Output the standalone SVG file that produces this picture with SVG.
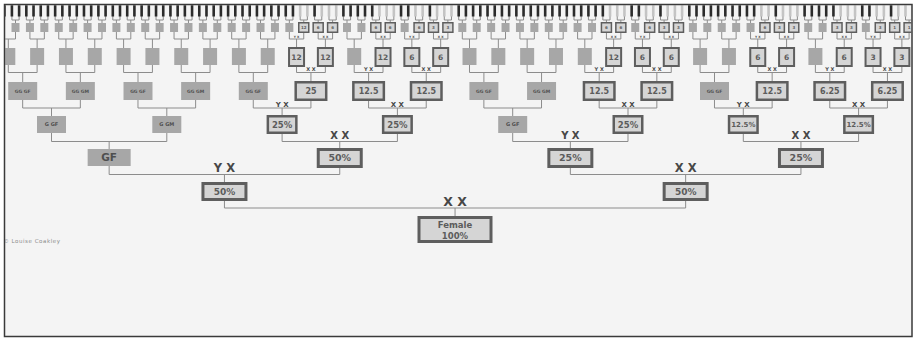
<svg xmlns="http://www.w3.org/2000/svg" xmlns:xlink="http://www.w3.org/1999/xlink" width="918" height="341" viewBox="0 0 918 341">
<style>
.bg{fill:#f4f4f4}
.frame{fill:none;stroke:#3a3a3a;stroke-width:1.5}
.cn{fill:none;stroke:#8c8c8c;stroke-width:1}
.gy{fill:#a7a7a7}
.cb{fill:#d5d5d5;stroke:#5e5e5e}
.s3{stroke-width:3}.s25{stroke-width:2.5}.s2{stroke-width:2}.s15{stroke-width:1.5}
.bd{fill:#2b2b2b}.bl{fill:#c4c4c4}
text{font-family:"DejaVu Sans","Liberation Sans",sans-serif;font-weight:bold;text-anchor:middle}
.tv{fill:#5c5c5c}.tg{fill:#4f4f4f}.lb{fill:#474747}
.f0{font-size:8.5px}.f1{font-size:9px}.f2{font-size:9.5px}.f3{font-size:8.5px}.f3s{font-size:7px}.fg3{font-size:5px}.f4{font-size:8px}.fg4{font-size:4.5px}.f5{font-size:7.5px}.f6{font-size:4px}
.l0{font-size:12.5px}.l1{font-size:11.5px}.l2{font-size:10px}.l3{font-size:7px}.l4{font-size:5px}.l5{font-size:3px}
.cp{font-size:5.5px;font-weight:normal;fill:#8a8a8a;text-anchor:start;letter-spacing:0.55px}
</style>
<defs>
<clipPath id="clip"><rect x="5.25" y="5.25" width="906" height="330.5"/></clipPath>
<rect id="g6" x="-4" y="23" width="8" height="9" class="gy"/>
<rect id="c6" x="-5" y="22.75" width="10" height="9.5" class="cb s15"/>
<rect id="g5" x="-7" y="48" width="14" height="17" class="gy"/>
<rect id="c5" x="-7.5" y="48" width="15" height="18" class="cb s2"/>
<rect id="g4" x="-14.5" y="82" width="29" height="18" class="gy"/>
<rect id="c4" x="-15.25" y="82.25" width="30.5" height="17.5" class="cb s25"/>
<rect id="g3" x="-14.5" y="116" width="29" height="17" class="gy"/>
<rect id="c3" x="-14.25" y="116.25" width="28.5" height="16.5" class="cb s25"/>
<g id="b-nn"><rect class="bd" x="-4.9" y="4" width="2.6" height="12.5"/><rect class="bd" x="2.3" y="4" width="2.6" height="12.5"/></g>
<g id="b-nc"><rect class="bd" x="-4.9" y="4" width="2.6" height="12.5"/><rect class="bl" x="2.3" y="4" width="2.6" height="12.5"/></g>
<g id="b-cc"><rect class="bl" x="-4.9" y="4" width="2.6" height="12.5"/><rect class="bl" x="2.3" y="4" width="2.6" height="12.5"/></g>
<path id="k6" d="M-3.6 16V20H3.6V16M0 20V23"/>
<path id="k5" d="M-7.2 30V39H7.2V30M0 39V48"/>
<path id="k4" d="M-14.41 60V72.5H14.41V60M0 72.5V82"/>
<path id="k3" d="M-28.83 95V108H28.83V95M0 108V116"/>
<path id="k2" d="M-57.65 128V141.5H57.65V128M0 141.5V149"/>
<path id="k1" d="M-115.3 160V174.5H115.3V160M0 174.5V183"/>
<path id="k0" d="M-230.6 192V208H230.6V192M0 208V217"/>
</defs>
<rect x="0" y="0" width="918" height="341" fill="#ffffff"/>
<rect class="bg" x="4.5" y="4.5" width="907.5" height="332"/>
<g clip-path="url(#clip)">
<g id="connectors" class="cn">
<use href="#k6" x="1.1"/><use href="#k6" x="15.51"/><use href="#k6" x="29.93"/><use href="#k6" x="44.34"/><use href="#k6" x="58.75"/><use href="#k6" x="73.16"/><use href="#k6" x="87.58"/><use href="#k6" x="101.99"/><use href="#k6" x="116.4"/><use href="#k6" x="130.81"/><use href="#k6" x="145.23"/><use href="#k6" x="159.64"/><use href="#k6" x="174.05"/><use href="#k6" x="188.46"/><use href="#k6" x="202.88"/><use href="#k6" x="217.29"/><use href="#k6" x="231.7"/><use href="#k6" x="246.11"/><use href="#k6" x="260.53"/><use href="#k6" x="274.94"/><use href="#k6" x="289.35"/><use href="#k6" x="303.76"/><use href="#k6" x="318.18"/><use href="#k6" x="332.59"/><use href="#k6" x="347"/><use href="#k6" x="361.41"/><use href="#k6" x="375.83"/><use href="#k6" x="390.24"/><use href="#k6" x="404.65"/><use href="#k6" x="419.06"/><use href="#k6" x="433.48"/><use href="#k6" x="447.89"/><use href="#k6" x="462.3"/><use href="#k6" x="476.71"/><use href="#k6" x="491.13"/><use href="#k6" x="505.54"/><use href="#k6" x="519.95"/><use href="#k6" x="534.36"/><use href="#k6" x="548.78"/><use href="#k6" x="563.19"/><use href="#k6" x="577.6"/><use href="#k6" x="592.01"/><use href="#k6" x="606.43"/><use href="#k6" x="620.84"/><use href="#k6" x="635.25"/><use href="#k6" x="649.66"/><use href="#k6" x="664.08"/><use href="#k6" x="678.49"/><use href="#k6" x="692.9"/><use href="#k6" x="707.31"/><use href="#k6" x="721.73"/><use href="#k6" x="736.14"/><use href="#k6" x="750.55"/><use href="#k6" x="764.96"/><use href="#k6" x="779.38"/><use href="#k6" x="793.79"/><use href="#k6" x="808.2"/><use href="#k6" x="822.61"/><use href="#k6" x="837.03"/><use href="#k6" x="851.44"/><use href="#k6" x="865.85"/><use href="#k6" x="880.26"/><use href="#k6" x="894.68"/><use href="#k6" x="909.09"/>
<use href="#k5" x="8.3"/><use href="#k5" x="37.13"/><use href="#k5" x="65.95"/><use href="#k5" x="94.78"/><use href="#k5" x="123.6"/><use href="#k5" x="152.43"/><use href="#k5" x="181.25"/><use href="#k5" x="210.08"/><use href="#k5" x="238.9"/><use href="#k5" x="267.73"/><use href="#k5" x="296.55"/><use href="#k5" x="325.38"/><use href="#k5" x="354.2"/><use href="#k5" x="383.03"/><use href="#k5" x="411.85"/><use href="#k5" x="440.68"/><use href="#k5" x="469.5"/><use href="#k5" x="498.33"/><use href="#k5" x="527.15"/><use href="#k5" x="555.98"/><use href="#k5" x="584.8"/><use href="#k5" x="613.63"/><use href="#k5" x="642.45"/><use href="#k5" x="671.28"/><use href="#k5" x="700.1"/><use href="#k5" x="728.93"/><use href="#k5" x="757.75"/><use href="#k5" x="786.58"/><use href="#k5" x="815.4"/><use href="#k5" x="844.23"/><use href="#k5" x="873.05"/><use href="#k5" x="901.88"/>
<use href="#k4" x="22.7"/><use href="#k4" x="80.35"/><use href="#k4" x="138"/><use href="#k4" x="195.65"/><use href="#k4" x="253.3"/><use href="#k4" x="310.95"/><use href="#k4" x="368.6"/><use href="#k4" x="426.25"/><use href="#k4" x="483.9"/><use href="#k4" x="541.55"/><use href="#k4" x="599.2"/><use href="#k4" x="656.85"/><use href="#k4" x="714.5"/><use href="#k4" x="772.15"/><use href="#k4" x="829.8"/><use href="#k4" x="887.45"/>
<use href="#k3" x="51.5"/><use href="#k3" x="166.8"/><use href="#k3" x="282.1"/><use href="#k3" x="397.4"/><use href="#k3" x="512.7"/><use href="#k3" x="628"/><use href="#k3" x="743.3"/><use href="#k3" x="858.6"/>
<use href="#k2" x="109.15"/><use href="#k2" x="339.75"/><use href="#k2" x="570.35"/><use href="#k2" x="800.95"/>
<use href="#k1" x="224.45"/><use href="#k1" x="685.65"/>
<use href="#k0" x="455.05"/>
</g>
<g id="gen7">
<use href="#b-nn" x="1.1"/><use href="#b-nn" x="15.51"/><use href="#b-nn" x="29.93"/><use href="#b-nn" x="44.34"/><use href="#b-nn" x="58.75"/><use href="#b-nn" x="73.16"/><use href="#b-nn" x="87.58"/><use href="#b-nn" x="101.99"/><use href="#b-nn" x="116.4"/><use href="#b-nn" x="130.81"/><use href="#b-nn" x="145.23"/><use href="#b-nn" x="159.64"/><use href="#b-nn" x="174.05"/><use href="#b-nn" x="188.46"/><use href="#b-nn" x="202.88"/><use href="#b-nn" x="217.29"/><use href="#b-nn" x="231.7"/><use href="#b-nn" x="246.11"/><use href="#b-nn" x="260.53"/><use href="#b-nn" x="274.94"/><use href="#b-nn" x="289.35"/><use href="#b-cc" x="303.76"/><use href="#b-nc" x="318.18"/><use href="#b-cc" x="332.59"/><use href="#b-nn" x="347"/><use href="#b-nn" x="361.41"/><use href="#b-nc" x="375.83"/><use href="#b-cc" x="390.24"/><use href="#b-nn" x="404.65"/><use href="#b-cc" x="419.06"/><use href="#b-nc" x="433.48"/><use href="#b-cc" x="447.89"/><use href="#b-nn" x="462.3"/><use href="#b-nn" x="476.71"/><use href="#b-nn" x="491.13"/><use href="#b-nn" x="505.54"/><use href="#b-nn" x="519.95"/><use href="#b-nn" x="534.36"/><use href="#b-nn" x="548.78"/><use href="#b-nn" x="563.19"/><use href="#b-nn" x="577.6"/><use href="#b-nn" x="592.01"/><use href="#b-nc" x="606.43"/><use href="#b-cc" x="620.84"/><use href="#b-nn" x="635.25"/><use href="#b-cc" x="649.66"/><use href="#b-nc" x="664.08"/><use href="#b-cc" x="678.49"/><use href="#b-nn" x="692.9"/><use href="#b-nn" x="707.31"/><use href="#b-nn" x="721.73"/><use href="#b-nn" x="736.14"/><use href="#b-nn" x="750.55"/><use href="#b-cc" x="764.96"/><use href="#b-nc" x="779.38"/><use href="#b-cc" x="793.79"/><use href="#b-nn" x="808.2"/><use href="#b-nn" x="822.61"/><use href="#b-nc" x="837.03"/><use href="#b-cc" x="851.44"/><use href="#b-nn" x="865.85"/><use href="#b-cc" x="880.26"/><use href="#b-nc" x="894.68"/><use href="#b-cc" x="909.09"/>
</g>
<g id="gen6">
<use id="n6-0" href="#g6" x="1.1"/><use id="n6-1" href="#g6" x="15.51"/><use id="n6-2" href="#g6" x="29.93"/><use id="n6-3" href="#g6" x="44.34"/><use id="n6-4" href="#g6" x="58.75"/><use id="n6-5" href="#g6" x="73.16"/><use id="n6-6" href="#g6" x="87.58"/><use id="n6-7" href="#g6" x="101.99"/><use id="n6-8" href="#g6" x="116.4"/><use id="n6-9" href="#g6" x="130.81"/><use id="n6-10" href="#g6" x="145.23"/><use id="n6-11" href="#g6" x="159.64"/><use id="n6-12" href="#g6" x="174.05"/><use id="n6-13" href="#g6" x="188.46"/><use id="n6-14" href="#g6" x="202.88"/><use id="n6-15" href="#g6" x="217.29"/><use id="n6-16" href="#g6" x="231.7"/><use id="n6-17" href="#g6" x="246.11"/><use id="n6-18" href="#g6" x="260.53"/><use id="n6-19" href="#g6" x="274.94"/><use id="n6-20" href="#g6" x="289.35"/>
<g id="n6-21" transform="translate(303.76 0)"><use href="#c6"/><text class="f6 tv" y="29">12</text></g>
<g id="n6-22" transform="translate(318.18 0)"><use href="#c6"/><text class="f6 tv" y="29">6</text></g>
<g id="n6-23" transform="translate(332.59 0)"><use href="#c6"/><text class="f6 tv" y="29">6</text></g>
<use id="n6-24" href="#g6" x="347"/><use id="n6-25" href="#g6" x="361.41"/>
<g id="n6-26" transform="translate(375.83 0)"><use href="#c6"/><text class="f6 tv" y="29">6</text></g>
<g id="n6-27" transform="translate(390.24 0)"><use href="#c6"/><text class="f6 tv" y="29">6</text></g>
<use id="n6-28" href="#g6" x="404.65"/>
<g id="n6-29" transform="translate(419.06 0)"><use href="#c6"/><text class="f6 tv" y="29">6</text></g>
<g id="n6-30" transform="translate(433.48 0)"><use href="#c6"/><text class="f6 tv" y="29">3</text></g>
<g id="n6-31" transform="translate(447.89 0)"><use href="#c6"/><text class="f6 tv" y="29">3</text></g>
<use id="n6-32" href="#g6" x="462.3"/><use id="n6-33" href="#g6" x="476.71"/><use id="n6-34" href="#g6" x="491.13"/><use id="n6-35" href="#g6" x="505.54"/><use id="n6-36" href="#g6" x="519.95"/><use id="n6-37" href="#g6" x="534.36"/><use id="n6-38" href="#g6" x="548.78"/><use id="n6-39" href="#g6" x="563.19"/><use id="n6-40" href="#g6" x="577.6"/><use id="n6-41" href="#g6" x="592.01"/>
<g id="n6-42" transform="translate(606.43 0)"><use href="#c6"/><text class="f6 tv" y="29">6</text></g>
<g id="n6-43" transform="translate(620.84 0)"><use href="#c6"/><text class="f6 tv" y="29">6</text></g>
<use id="n6-44" href="#g6" x="635.25"/>
<g id="n6-45" transform="translate(649.66 0)"><use href="#c6"/><text class="f6 tv" y="29">6</text></g>
<g id="n6-46" transform="translate(664.08 0)"><use href="#c6"/><text class="f6 tv" y="29">3</text></g>
<g id="n6-47" transform="translate(678.49 0)"><use href="#c6"/><text class="f6 tv" y="29">3</text></g>
<use id="n6-48" href="#g6" x="692.9"/><use id="n6-49" href="#g6" x="707.31"/><use id="n6-50" href="#g6" x="721.73"/><use id="n6-51" href="#g6" x="736.14"/><use id="n6-52" href="#g6" x="750.55"/>
<g id="n6-53" transform="translate(764.96 0)"><use href="#c6"/><text class="f6 tv" y="29">6</text></g>
<g id="n6-54" transform="translate(779.38 0)"><use href="#c6"/><text class="f6 tv" y="29">3</text></g>
<g id="n6-55" transform="translate(793.79 0)"><use href="#c6"/><text class="f6 tv" y="29">3</text></g>
<use id="n6-56" href="#g6" x="808.2"/><use id="n6-57" href="#g6" x="822.61"/>
<g id="n6-58" transform="translate(837.03 0)"><use href="#c6"/><text class="f6 tv" y="29">3</text></g>
<g id="n6-59" transform="translate(851.44 0)"><use href="#c6"/><text class="f6 tv" y="29">3</text></g>
<use id="n6-60" href="#g6" x="865.85"/>
<g id="n6-61" transform="translate(880.26 0)"><use href="#c6"/><text class="f6 tv" y="29">3</text></g>
<g id="n6-62" transform="translate(894.68 0)"><use href="#c6"/><text class="f6 tv" y="29">1</text></g>
<g id="n6-63" transform="translate(909.09 0)"><use href="#c6"/><text class="f6 tv" y="29">1</text></g>
</g>
<g id="gen5">
<use id="n5-0" href="#g5" x="8.3"/><use id="n5-1" href="#g5" x="37.13"/><use id="n5-2" href="#g5" x="65.95"/><use id="n5-3" href="#g5" x="94.78"/><use id="n5-4" href="#g5" x="123.6"/><use id="n5-5" href="#g5" x="152.43"/><use id="n5-6" href="#g5" x="181.25"/><use id="n5-7" href="#g5" x="210.08"/><use id="n5-8" href="#g5" x="238.9"/><use id="n5-9" href="#g5" x="267.73"/>
<g id="n5-10" transform="translate(296.55 0)"><use href="#c5"/><text class="f5 tv" y="59.7">12</text></g>
<g id="n5-11" transform="translate(325.38 0)"><use href="#c5"/><text class="f5 tv" y="59.7">12</text></g>
<use id="n5-12" href="#g5" x="354.2"/>
<g id="n5-13" transform="translate(383.03 0)"><use href="#c5"/><text class="f5 tv" y="59.7">12</text></g>
<g id="n5-14" transform="translate(411.85 0)"><use href="#c5"/><text class="f5 tv" y="59.7">6</text></g>
<g id="n5-15" transform="translate(440.68 0)"><use href="#c5"/><text class="f5 tv" y="59.7">6</text></g>
<use id="n5-16" href="#g5" x="469.5"/><use id="n5-17" href="#g5" x="498.33"/><use id="n5-18" href="#g5" x="527.15"/><use id="n5-19" href="#g5" x="555.98"/><use id="n5-20" href="#g5" x="584.8"/>
<g id="n5-21" transform="translate(613.63 0)"><use href="#c5"/><text class="f5 tv" y="59.7">12</text></g>
<g id="n5-22" transform="translate(642.45 0)"><use href="#c5"/><text class="f5 tv" y="59.7">6</text></g>
<g id="n5-23" transform="translate(671.28 0)"><use href="#c5"/><text class="f5 tv" y="59.7">6</text></g>
<use id="n5-24" href="#g5" x="700.1"/><use id="n5-25" href="#g5" x="728.93"/>
<g id="n5-26" transform="translate(757.75 0)"><use href="#c5"/><text class="f5 tv" y="59.7">6</text></g>
<g id="n5-27" transform="translate(786.58 0)"><use href="#c5"/><text class="f5 tv" y="59.7">6</text></g>
<use id="n5-28" href="#g5" x="815.4"/>
<g id="n5-29" transform="translate(844.23 0)"><use href="#c5"/><text class="f5 tv" y="59.7">6</text></g>
<g id="n5-30" transform="translate(873.05 0)"><use href="#c5"/><text class="f5 tv" y="59.7">3</text></g>
<g id="n5-31" transform="translate(901.88 0)"><use href="#c5"/><text class="f5 tv" y="59.7">3</text></g>
</g>
<g id="gen4">
<g id="n4-0" transform="translate(22.7 0)"><use href="#g4"/><text class="fg4 tg" y="92.6">GG GF</text></g>
<g id="n4-1" transform="translate(80.35 0)"><use href="#g4"/><text class="fg4 tg" y="92.6">GG GM</text></g>
<g id="n4-2" transform="translate(138 0)"><use href="#g4"/><text class="fg4 tg" y="92.6">GG GF</text></g>
<g id="n4-3" transform="translate(195.65 0)"><use href="#g4"/><text class="fg4 tg" y="92.6">GG GM</text></g>
<g id="n4-4" transform="translate(253.3 0)"><use href="#g4"/><text class="fg4 tg" y="92.6">GG GF</text></g>
<g id="n4-5" transform="translate(310.95 0)"><use href="#c4"/><text class="f4 tv" y="93.9">25</text></g>
<g id="n4-6" transform="translate(368.6 0)"><use href="#c4"/><text class="f4 tv" y="93.9">12.5</text></g>
<g id="n4-7" transform="translate(426.25 0)"><use href="#c4"/><text class="f4 tv" y="93.9">12.5</text></g>
<g id="n4-8" transform="translate(483.9 0)"><use href="#g4"/><text class="fg4 tg" y="92.6">GG GF</text></g>
<g id="n4-9" transform="translate(541.55 0)"><use href="#g4"/><text class="fg4 tg" y="92.6">GG GM</text></g>
<g id="n4-10" transform="translate(599.2 0)"><use href="#c4"/><text class="f4 tv" y="93.9">12.5</text></g>
<g id="n4-11" transform="translate(656.85 0)"><use href="#c4"/><text class="f4 tv" y="93.9">12.5</text></g>
<g id="n4-12" transform="translate(714.5 0)"><use href="#g4"/><text class="fg4 tg" y="92.6">GG GF</text></g>
<g id="n4-13" transform="translate(772.15 0)"><use href="#c4"/><text class="f4 tv" y="93.9">12.5</text></g>
<g id="n4-14" transform="translate(829.8 0)"><use href="#c4"/><text class="f4 tv" y="93.9">6.25</text></g>
<g id="n4-15" transform="translate(887.45 0)"><use href="#c4"/><text class="f4 tv" y="93.9">6.25</text></g>
</g>
<g id="gen3">
<g id="n3-0" transform="translate(51.5 0)"><use href="#g3"/><text class="fg3 tg" y="126.3">G GF</text></g>
<g id="n3-1" transform="translate(166.8 0)"><use href="#g3"/><text class="fg3 tg" y="126.3">G GM</text></g>
<g id="n3-2" transform="translate(282.1 0)"><use href="#c3"/><text class="f3 tv" y="127.5">25%</text></g>
<g id="n3-3" transform="translate(397.4 0)"><use href="#c3"/><text class="f3 tv" y="127.5">25%</text></g>
<g id="n3-4" transform="translate(512.7 0)"><use href="#g3"/><text class="fg3 tg" y="126.3">G GF</text></g>
<g id="n3-5" transform="translate(628 0)"><use href="#c3"/><text class="f3 tv" y="127.5">25%</text></g>
<g id="n3-6" transform="translate(743.3 0)"><use href="#c3"/><text class="f3s tv" y="127">12.5%</text></g>
<g id="n3-7" transform="translate(858.6 0)"><use href="#c3"/><text class="f3s tv" y="127">12.5%</text></g>
</g>
<g id="gen2">
<g id="n2-0"><rect class="gy" x="87.65" y="149" width="43" height="17"/><text class="f2 tg" x="109.15" y="161.2" style="font-size:10.5px">GF</text></g>
<g id="n2-1"><rect class="cb s3" x="318.25" y="149.5" width="43" height="17"/><text class="f2 tv" x="339.75" y="161.4">50%</text></g>
<g id="n2-2"><rect class="cb s3" x="548.85" y="149.5" width="43" height="17"/><text class="f2 tv" x="570.35" y="161.4">25%</text></g>
<g id="n2-3"><rect class="cb s3" x="779.45" y="149.5" width="43" height="17"/><text class="f2 tv" x="800.95" y="161.4">25%</text></g>
</g>
<g id="gen1">
<g id="n1-0"><rect class="cb s3" x="202.95" y="183.5" width="43" height="16"/><text class="f1 tv" x="224.45" y="194.8">50%</text></g>
<g id="n1-1"><rect class="cb s3" x="664.15" y="183.5" width="43" height="16"/><text class="f1 tv" x="685.65" y="194.8">50%</text></g>
</g>
<g id="female"><rect class="cb s3" x="419" y="217.5" width="72" height="24"/><text class="f0 tv" x="455" y="228">Female</text><text class="f0 tv" x="455" y="239">100%</text></g>
<g id="labels" class="lb">
<text class="l0" x="455.05" y="205.5">X X</text>
<text class="l1" x="224.45" y="172">Y X</text><text class="l1" x="685.65" y="172">X X</text>
<text class="l2" x="339.75" y="138.5">X X</text><text class="l2" x="570.35" y="138.5">Y X</text><text class="l2" x="800.95" y="138.5">X X</text>
<text class="l3" x="282.1" y="106.5">Y X</text><text class="l3" x="397.4" y="106.5">X X</text><text class="l3" x="628" y="106.5">X X</text><text class="l3" x="743.3" y="106.5">Y X</text><text class="l3" x="858.6" y="106.5">X X</text>
<text class="l4" x="310.95" y="71.2">X X</text><text class="l4" x="368.6" y="71.2">Y X</text><text class="l4" x="426.25" y="71.2">X X</text><text class="l4" x="599.2" y="71.2">Y X</text><text class="l4" x="656.85" y="71.2">X X</text><text class="l4" x="772.15" y="71.2">X X</text><text class="l4" x="829.8" y="71.2">Y X</text><text class="l4" x="887.45" y="71.2">X X</text>
<text class="l5" x="296.55" y="38">Y X</text><text class="l5" x="325.38" y="38">X X</text><text class="l5" x="383.03" y="38">X X</text><text class="l5" x="411.85" y="38">Y X</text><text class="l5" x="440.68" y="38">X X</text><text class="l5" x="613.63" y="38">X X</text><text class="l5" x="642.45" y="38">Y X</text><text class="l5" x="671.28" y="38">X X</text><text class="l5" x="757.75" y="38">Y X</text><text class="l5" x="786.58" y="38">X X</text><text class="l5" x="844.23" y="38">X X</text><text class="l5" x="873.05" y="38">Y X</text><text class="l5" x="901.88" y="38">X X</text>
</g>
<text class="cp" x="3.2" y="243">© Louise Coakley</text>
</g>
<rect class="frame" x="4.5" y="4.5" width="907.5" height="332"/>
</svg>
